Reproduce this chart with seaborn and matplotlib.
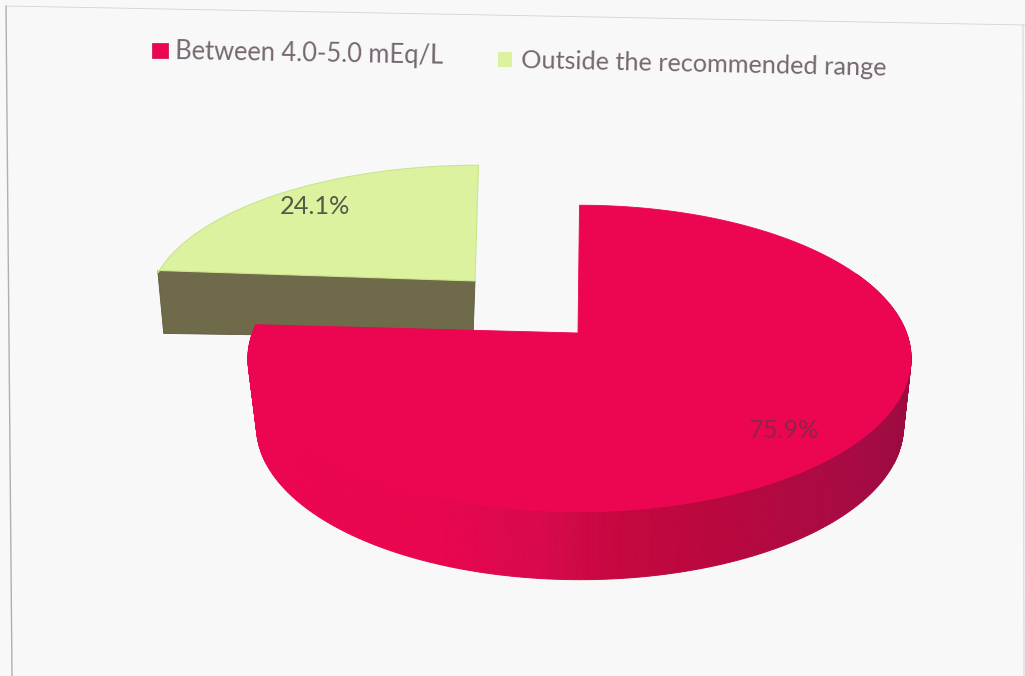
import numpy as np
import matplotlib
matplotlib.use("Agg")
import matplotlib.pyplot as plt
from matplotlib.colors import to_rgb
from matplotlib.patches import Polygon, Rectangle
import seaborn as sns

# Share of readings per potassium range
categories = ["Between 4.0-5.0 mEq/L", "Outside the recommended range"]
values = [75.9, 24.1]

top_colors = ["#ec0550", "#dcf29f"]
paper = "#f8f8f9"
frame_color = "#b4acb4"
legend_text = "#75666f"

sns.set_theme(style="white")
plt.rcParams["font.family"] = ["Lato", "DejaVu Sans"]

fig, ax = plt.subplots(figsize=(10.25, 6.76), dpi=100)
fig.patch.set_facecolor(paper)
ax.set_position([0, 0, 1, 1])
ax.set_xlim(0, 1025)
ax.set_ylim(676, 0)
ax.axis("off")


def project(theta, cx, cy, a, b, k=0.166, lean=0.0):
    """Tilted-disc projection; theta runs clockwise from the back of the pie."""
    u, v = np.sin(theta), np.cos(theta)
    w = 1 + k * v
    y = cy - b * v / w
    x = cx + a * u / w + lean * (cy - y)
    return x, y


def arc(t0, t1, *args, n=240, **kwargs):
    return project(np.linspace(t0, t1, n), *args, **kwargs)


split = np.deg2rad(360 * values[0] / sum(values))

# Exploded slice: front wall first, then its top face
green = (475, 281, 321, 135)
tip_x, tip_y = project(split, *green, lean=0.03)
tip_y -= 3
wall_depth = 63
ax.add_patch(Polygon([(tip_x, tip_y), (green[0], green[1]),
                      (green[0] - 2, green[1] + wall_depth - 6),
                      (tip_x + 6, tip_y + wall_depth)],
                     closed=True, fc="#6f6a4a", ec="#5c5840", lw=0.6, zorder=1))
gx, gy = arc(split, 2 * np.pi, *green, lean=0.03)
gy[0] = tip_y
ax.add_patch(Polygon(np.r_[[(green[0], green[1])], np.c_[gx, gy]],
                     closed=True, fc=top_colors[1], ec="#c8e68c", lw=0.8, zorder=2))

# Main slice: curved wall built from narrow shaded strips
apex = (578, 333)
red_top = (579.5, 333, 327, 149)
red_low = (580, 401, 319, 149)
stops_x = [250, 440, 540, 620, 740, 850, 910]
stops_c = ["#ec0550", "#e8064e", "#d8094c", "#c4083f", "#b6083f", "#a80a44", "#9a0a40"]
stops_rgb = np.array([to_rgb(c) for c in stops_c])

angles = np.linspace(np.deg2rad(65), split, 260)
xt, yt = project(angles, *red_top)
xb, yb = project(angles, *red_low)
for i in range(len(angles) - 1):
    mid = (xb[i] + xb[i + 1]) / 2
    shade = [np.interp(mid, stops_x, stops_rgb[:, c]) for c in range(3)]
    ax.add_patch(Polygon([(xt[i], yt[i]), (xt[i + 1], yt[i + 1]),
                          (xb[i + 1], yb[i + 1]), (xb[i], yb[i])],
                         closed=True, fc=shade, ec=shade, lw=0.7, zorder=3))

rx, ry = arc(0, split, *red_top)
ax.add_patch(Polygon(np.r_[[apex], np.c_[rx, ry]],
                     closed=True, fc=top_colors[0], ec=top_colors[0], lw=0.6, zorder=4))

# Percentage labels
ax.text(315, 207, f"{values[1]:.1f}%", ha="center", va="center",
        fontsize=18.3, color="#56584a", zorder=5)
ax.text(784, 431, f"{values[0]:.1f}%", ha="center", va="center",
        fontsize=18.3, color="#8e2548", zorder=5)

# Hand-placed legend, running slightly downhill across the page
ax.add_patch(Rectangle((152, 43), 16, 15, fc=top_colors[0], ec="#c80a48", lw=0.5, zorder=5))
ax.text(175, 52, categories[0], ha="left", va="center", fontsize=18.4,
        color=legend_text, rotation=-1.0, rotation_mode="anchor", zorder=5)
ax.add_patch(Rectangle((498, 52), 14, 15, fc=top_colors[1], ec="none", zorder=5))
ax.text(521, 61, categories[1], ha="left", va="center", fontsize=18.2,
        color=legend_text, rotation=-1.2, rotation_mode="anchor", zorder=5)

# Thin chart frame
ax.plot([6, 1025], [6, 25], color=frame_color, lw=0.6, alpha=0.5, zorder=0)
ax.plot([6, 12], [6, 676], color=frame_color, lw=1.0, zorder=0)
ax.plot([1023, 1024], [25, 676], color=frame_color, lw=0.7, alpha=0.5, zorder=0)

fig.savefig("out.png", dpi=100, facecolor=paper)
